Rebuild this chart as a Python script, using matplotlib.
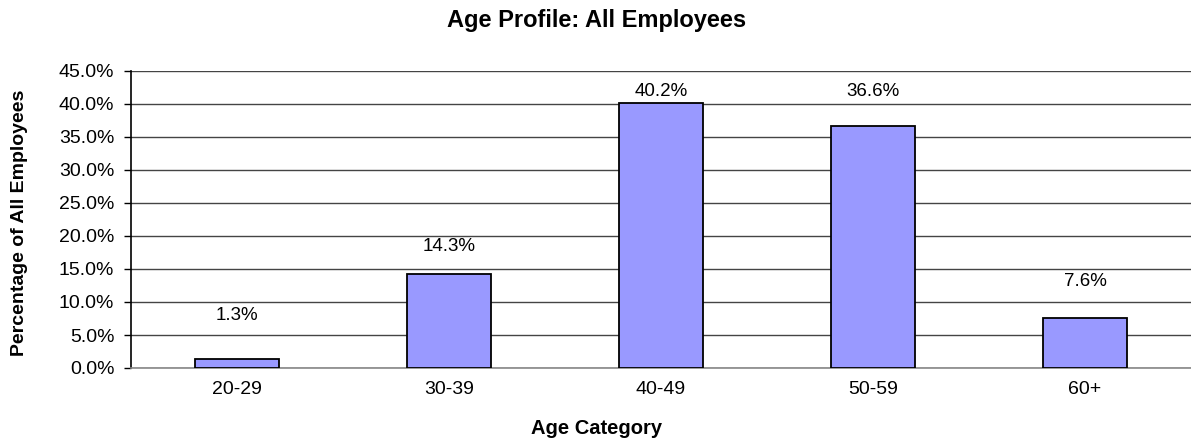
import matplotlib
matplotlib.use("Agg")
import matplotlib.pyplot as plt
from matplotlib.ticker import FuncFormatter, MultipleLocator

categories = ["20-29", "30-39", "40-49", "50-59", "60+"]
values = [1.3, 14.3, 40.2, 36.6, 7.6]
value_labels = ["1.3%", "14.3%", "40.2%", "36.6%", "7.6%"]
label_offsets_px = [44, 27, 11, 35, 36]

plt.rcParams['font.family'] = ['Liberation Sans', 'DejaVu Sans']

fig = plt.figure(figsize=(11.91, 4.45), dpi=100)
ax = fig.add_axes([131/1191, 1-368/445, 1-131/1191, (368-71)/445])

x = list(range(len(categories)))
bars = ax.bar(x, values, width=0.4, color="#9999FF", edgecolor="black", linewidth=1.3, zorder=3)

ax.set_xlim(-0.5, len(categories) - 0.5)
ax.set_ylim(0, 45)
ax.yaxis.set_major_locator(MultipleLocator(5))
ax.yaxis.set_major_formatter(FuncFormatter(lambda v, p: f"{v:.1f}%"))
ax.grid(axis='y', color="#444444", linewidth=1.0, zorder=0)
ax.set_axisbelow(True)

for s in ["top", "right"]:
    ax.spines[s].set_visible(False)
ax.spines["left"].set_color("black")
ax.spines["left"].set_linewidth(1.2)
ax.spines["bottom"].set_color("#888888")
ax.spines["bottom"].set_linewidth(1.2)

ax.set_xticks(x)
ax.set_xticklabels(categories, fontsize=14)
ax.tick_params(axis='x', length=0, pad=9)
ax.tick_params(axis='y', length=5, width=1, labelsize=14, pad=7, direction='out')

for xi, v, lab, off in zip(x, values, value_labels, label_offsets_px):
    ax.annotate(lab, (xi, v), xytext=(0, off * 0.72), textcoords="offset points",
                ha="center", va="center", fontsize=13.5)

fig.text(597/1191, 1-20/445, "Age Profile: All Employees", ha="center", va="center",
         fontsize=17, fontweight="bold")
fig.text(597/1191, 1-428/445, "Age Category", ha="center", va="center",
         fontsize=14.5, fontweight="bold")
fig.text(20/1191, 1-223/445, "Percentage of All Employees", ha="center", va="center",
         rotation=90, fontsize=14, fontweight="bold")

fig.savefig("out.png", dpi=100)
